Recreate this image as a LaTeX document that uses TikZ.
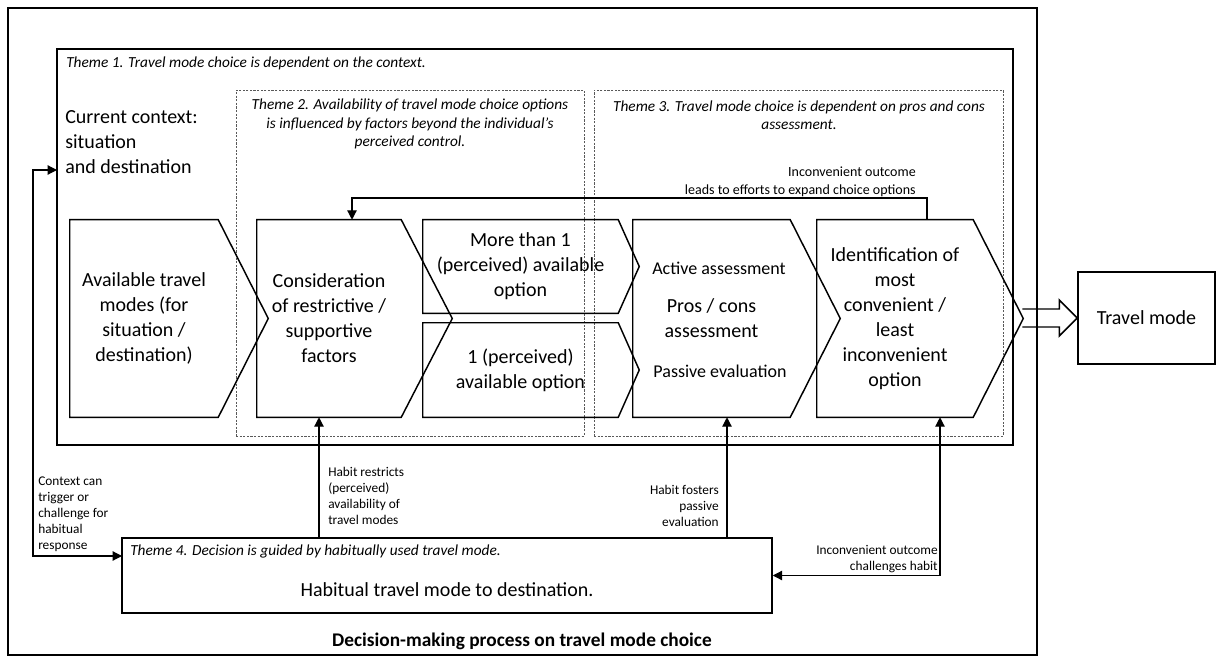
\documentclass[tikz,border=0pt]{standalone}
\usepackage{fontspec}
\setmainfont{Carlito}
\usetikzlibrary{positioning,arrows.meta,calc,fit}
\newcommand{\bigtxt}{\fontsize{15pt}{18.75pt}\selectfont}
\newcommand{\midtxt}{\fontsize{13.5pt}{16pt}\selectfont}
\newcommand{\themetxt}{\fontsize{11.5pt}{13.6pt}\selectfont\itshape}
\newcommand{\notetxt}{\fontsize{10pt}{12pt}\selectfont}
\newcommand{\fbtxt}{\fontsize{10.5pt}{13.5pt}\selectfont}
\newcommand{\titletxt}{\fontsize{14.5pt}{17pt}\selectfont\bfseries}
\tikzset{
  >={Triangle[length=7pt,width=7pt]},
  outer/.style={draw, line width=1.9pt, inner sep=0pt},
  frame/.style={draw, line width=1.4pt, inner sep=0pt},
  themebox/.style={draw=gray!70!black, line width=0.6pt, dash pattern=on 1.6pt off 1.1pt, inner sep=0pt},
  chev/.style={inner sep=0pt, align=center, font=\bigtxt},
  stepbox/.style 2 args={minimum width=#1*0.75pt, minimum height=#2*0.75pt},
  chevline/.style={line width=1.1pt, line join=miter},
  link/.style={->, line width=0.9pt},
  theme/.style={font=\themetxt, inner sep=0pt},
  sub/.style={font=\midtxt, inner sep=0pt},
  note/.style={font=\notetxt, inner sep=0pt},
}

\begin{document}
\begin{tikzpicture}[x=0.75pt,y=-0.75pt]
\useasboundingbox (0,0) rectangle (1218,656);

% frames of the themes
\node[outer, fit={(8,8) (1037,655)}] (proc) {};
\node[frame, fit={(57,49) (1013,445)}] (ctx) {};
\node[themebox, fit={(236,90) (584,436)}] (avl) {};
\node[themebox, fit={(594,90) (1003,436)}] (assess) {};

\node[theme, anchor=west] (t1) at (66,63) {Theme 1. Travel mode choice is dependent on the context.};
\node[theme, align=center] (t2) at (410,124) {Theme 2. Availability of travel mode choice options\\is influenced by factors beyond the individual’s\\perceived control.};
\node[theme, align=center] (t3) at (799,115) {Theme 3. Travel mode choice is dependent on pros and cons\\assessment.};
\node[chev, align=left, anchor=west] (cur) at (65,142) {Current context:\\situation\\and destination};

% steps
\node[chev, stepbox={148}{197}] (avail) at (144,318.5) {Available travel\\modes (for\\situation /\\destination)};
\node[chev, stepbox={144}{197}] (consid) at (329,318.5) {Consideration\\of restrictive /\\supportive\\factors};
\node[chev, stepbox={195}{93}] (more) at (520.5,266.5) {More than 1\\(perceived) available\\option};
\node[chev, stepbox={195}{94}] (one) at (520.5,370) {1 (perceived)\\available option};
\node[chev, stepbox={157}{197}] (pros) at (711.5,318.5) {Pros / cons\\assessment};
\node[sub] (act) at (719,268) {Active assessment};
\node[sub] (pas) at (720,371) {Passive evaluation};
\node[chev, stepbox={156}{197}] (ident) at (895,318.5) {Identification of\\most\\convenient /\\least\\inconvenient\\option};

\foreach \n/\d in {avail/50,consid/51,more/21,one/21,pros/50,ident/50}
  \draw[chevline] (\n.north west) -- (\n.north east) -- ($(\n.east)+(\d,0)$) -- (\n.south east) -- (\n.south west) -- cycle;

\node[chev, draw, chevline, stepbox={137}{92}] (travel) at (1146.5,318) {Travel mode};
\draw[chevline] ($(travel.west)+(-55,-9)$) -- ++(37,0) -- ++(0,-9) -- (travel.west) -- ++(-18,18) -- ++(0,-9) -- ++(-37,0);

% feedback loop
\coordinate (fbtop) at (352,198);
\draw[link] ($(ident.north)+(32,0)$) |- (fbtop) -- (fbtop |- consid.north);
\node[note, font=\fbtxt, align=right, anchor=south east] (fblab) at (916,197) {Inconvenient outcome\\leads to efforts to expand choice options};

% habit
\node[frame, line width=1.1pt, fit={(122,538) (772,613)}] (habit) {};
\node[theme, anchor=west] (t4) at (130,551) {Theme 4. Decision is guided by habitually used travel mode.};
\node[chev] (habtxt) at (447,590) {Habitual travel mode to destination.};

\coordinate (rs) at ($(consid.south)+(-10,0)$);
\coordinate (fs) at ($(pros.south)+(15.5,0)$);
\draw[link] (habit.north -| rs) -- (rs);
\draw[link] (habit.north -| fs) -- (fs);
\draw[link,<->] ($(ident.south)+(45,0)$) |- (habit.east);
\coordinate (ctxin) at (57,170);
\coordinate (habin) at (122,556);
\draw[link,<->] (ctxin) -- ++(-24,0) |- (habin);

\node[note, align=left, anchor=west] (lctx) at (38,514) {Context can\\trigger or\\challenge for\\habitual\\response};
\node[note, align=left, anchor=west] (lres) at (328,496) {Habit restricts\\(perceived)\\availability of\\travel modes};
\node[note, align=right, anchor=east] (lfos) at (719,506) {Habit fosters\\passive\\evaluation};
\node[note, align=right, anchor=east] (lchal) at (938,559) {Inconvenient outcome\\challenges habit};

\node[font=\titletxt] (title) at (522,641) {Decision-making process on travel mode choice};
\end{tikzpicture}
\end{document}
